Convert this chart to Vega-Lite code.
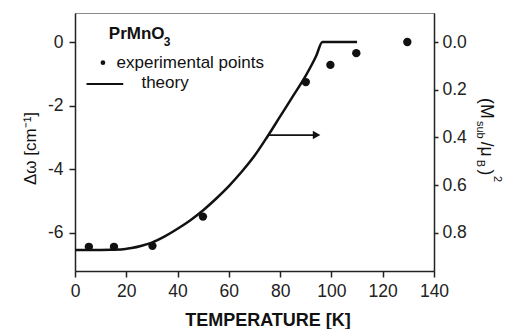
{
  "$schema": "https://vega.github.io/schema/vega-lite/v6.json",
  "width": 359,
  "height": 258,
  "autosize": "none",
  "padding": {"left": 75, "top": 13, "right": 74, "bottom": 58},
  "background": "white",
  "config": {
    "font": "Liberation Sans",
    "view": {"stroke": "#8a8a8a", "strokeWidth": 1},
    "axis": {
      "grid": false,
      "domainColor": "#222",
      "domainWidth": 1.5,
      "tickColor": "#222",
      "tickWidth": 1.5,
      "labelColor": "#222",
      "titleColor": "#111",
      "labelFont": "Liberation Sans",
      "titleFont": "Liberation Sans",
      "labelFontSize": 17.5,
      "labelFlush": false,
      "labelOverlap": false
    },
    "text": {"font": "Liberation Sans", "color": "#111"}
  },
  "datasets": {
    "exp": [
      {"T": 5.4, "dw": -6.44},
      {"T": 15.2, "dw": -6.44},
      {"T": 30.2, "dw": -6.41},
      {"T": 49.9, "dw": -5.49},
      {"T": 90.0, "dw": -1.26},
      {"T": 99.6, "dw": -0.72},
      {"T": 109.7, "dw": -0.35},
      {"T": 129.6, "dw": 0.0}
    ],
    "theory": [
      {"T": 0, "m2": 0.872},
      {"T": 10, "m2": 0.872},
      {"T": 18, "m2": 0.870},
      {"T": 22, "m2": 0.864},
      {"T": 26, "m2": 0.854},
      {"T": 30, "m2": 0.841},
      {"T": 35, "m2": 0.815},
      {"T": 40, "m2": 0.783},
      {"T": 45, "m2": 0.747},
      {"T": 50, "m2": 0.705},
      {"T": 55, "m2": 0.657},
      {"T": 60, "m2": 0.604},
      {"T": 65, "m2": 0.544},
      {"T": 70, "m2": 0.477},
      {"T": 75, "m2": 0.397},
      {"T": 80, "m2": 0.312},
      {"T": 85, "m2": 0.227},
      {"T": 90, "m2": 0.141},
      {"T": 94, "m2": 0.060},
      {"T": 96.5, "m2": 0.0},
      {"T": 110, "m2": 0.0}
    ]
  },
  "layer": [
    {
      "encoding": {
        "x": {
          "field": "T",
          "type": "quantitative",
          "scale": {"domain": [0, 140], "nice": false, "zero": false},
          "axis": {
            "values": [0, 20, 40, 60, 80, 100, 120, 140],
            "format": "d",
            "title": "TEMPERATURE [K]",
            "titleFontWeight": "bold",
            "titleFontSize": 18,
            "titleX": 192.5,
            "titleY": 54,
            "titleAlign": "center",
            "titleBaseline": "alphabetic",
            "tickSize": 6,
            "labelPadding": 5
          }
        },
        "y": {
          "field": "dw",
          "type": "quantitative",
          "scale": {"domain": [-7.2, 0.912], "nice": false, "zero": false},
          "axis": {
            "values": [-6, -4, -2, 0],
            "labelExpr": "'' + datum.value",
            "title": "Δω [cm⁻¹]",
            "titleFontWeight": "normal",
            "titleFontSize": 17,
            "titleAngle": 270,
            "titleX": -40,
            "titleY": 135,
            "titleAlign": "center",
            "titleBaseline": "alphabetic",
            "tickSize": 6,
            "labelPadding": 6
          }
        }
      },
      "layer": [
        {
          "data": {"name": "exp"},
          "mark": {"type": "circle", "size": 70, "color": "#111", "opacity": 1}
        },
        {
          "data": {"values": [{"T": 10.9, "dw": -0.65}]},
          "mark": {"type": "circle", "size": 22, "color": "#111", "opacity": 1}
        },
        {
          "data": {"values": [{"T": 4.5, "T2": 18.8, "dw": -1.32}]},
          "mark": {"type": "rule", "color": "#111", "strokeWidth": 2},
          "encoding": {"x2": {"field": "T2"}}
        },
        {
          "data": {"values": [{"T": 13.2, "dw": 0.094, "label": "PrMnO"}]},
          "mark": {"type": "text", "align": "left", "baseline": "alphabetic", "fontSize": 17, "fontWeight": "bold"},
          "encoding": {"text": {"field": "label"}}
        },
        {
          "data": {"values": [{"T": 34.6, "dw": -0.126, "label": "3"}]},
          "mark": {"type": "text", "align": "left", "baseline": "alphabetic", "fontSize": 12, "fontWeight": "bold"},
          "encoding": {"text": {"field": "label"}}
        },
        {
          "data": {"values": [
            {"T": 16.2, "dw": -0.81, "label": "experimental points"},
            {"T": 25.9, "dw": -1.447, "label": "theory"}
          ]},
          "mark": {"type": "text", "align": "left", "baseline": "alphabetic", "fontSize": 17},
          "encoding": {"text": {"field": "label"}}
        }
      ]
    },
    {
      "encoding": {
        "x": {
          "field": "T",
          "type": "quantitative",
          "scale": {"domain": [0, 140], "nice": false, "zero": false},
          "axis": {
            "values": [0, 20, 40, 60, 80, 100, 120, 140],
            "format": "d",
            "title": "TEMPERATURE [K]",
            "titleFontWeight": "bold",
            "titleFontSize": 18,
            "titleX": 192.5,
            "titleY": 54,
            "titleAlign": "center",
            "titleBaseline": "alphabetic",
            "tickSize": 6,
            "labelPadding": 5
          }
        },
        "y": {
          "field": "m2",
          "type": "quantitative",
          "scale": {"domain": [-0.1216, 0.96], "nice": false, "zero": false, "reverse": true},
          "axis": {
            "orient": "right",
            "values": [0, 0.2, 0.4, 0.6, 0.8],
            "format": ".1f",
            "title": null,
            "tickSize": 4,
            "labelPadding": 4
          }
        }
      },
      "layer": [
        {
          "data": {"name": "theory"},
          "mark": {"type": "line", "color": "#111", "strokeWidth": 2.5, "interpolate": "monotone"}
        },
        {
          "data": {"values": [{"T": 75.4, "T2": 94.5, "m2": 0.39}]},
          "mark": {"type": "rule", "color": "#111", "strokeWidth": 1.8},
          "encoding": {"x2": {"field": "T2"}}
        },
        {
          "data": {"values": [{"T": 94.2, "m2": 0.39}]},
          "mark": {"type": "point", "shape": "triangle-right", "filled": true, "size": 75, "color": "#111", "opacity": 1}
        },
        {
          "data": {"values": [
            {"T": 158.3, "m2": 0.235, "label": "(M"},
            {"T": 158.3, "m2": 0.418, "label": "/μ"},
            {"T": 158.3, "m2": 0.535, "label": ")"}
          ]},
          "mark": {"type": "text", "angle": 90, "align": "left", "baseline": "alphabetic", "fontSize": 17.5},
          "encoding": {"text": {"field": "label"}}
        },
        {
          "data": {"values": [
            {"T": 158.3, "m2": 0.331, "label": "sub"},
            {"T": 158.3, "m2": 0.494, "label": "B"}
          ]},
          "mark": {"type": "text", "angle": 90, "align": "left", "baseline": "alphabetic", "fontSize": 11, "dy": 4},
          "encoding": {"text": {"field": "label"}}
        },
        {
          "data": {"values": [{"T": 158.3, "m2": 0.562, "label": "2"}]},
          "mark": {"type": "text", "angle": 90, "align": "left", "baseline": "alphabetic", "fontSize": 11, "dy": -13},
          "encoding": {"text": {"field": "label"}}
        }
      ]
    }
  ],
  "resolve": {"scale": {"y": "independent"}, "axis": {"y": "independent"}}
}
